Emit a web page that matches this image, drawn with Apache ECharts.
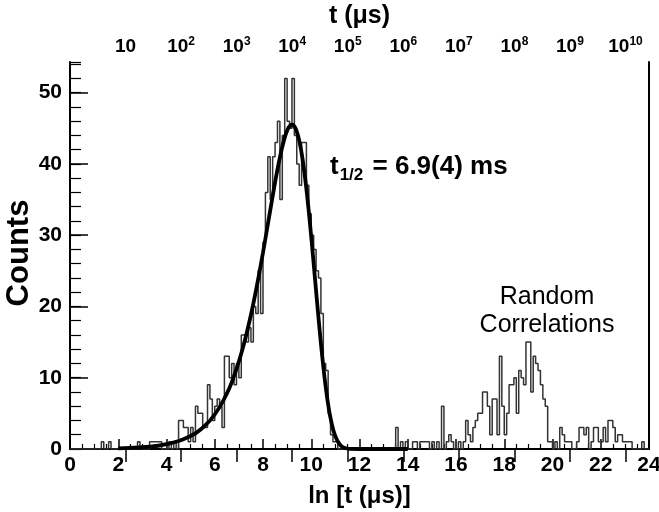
<!DOCTYPE html>
<html><head><meta charset="utf-8">
<script src="https://cdn.jsdelivr.net/npm/echarts@6/dist/echarts.min.js"></script>
<style>html,body{margin:0;padding:0;background:#fff}#c{width:659px;height:512px}</style>
</head><body><div id="c"></div>
<script>
// Histogram: bins of width 0.1 in ln[t(us)], starting at 0
const binStart = 0;
const binWidth = 0.1;
const counts = [
  0,0,0,0,0,0,0,0,0,0,
  0,0,0,1,0,0,1,0,0,0,
  0,0,0,0,0,0,0,0,1,0,
  0,0,0,1,1,1,1,1,0,0,
  0,1,0,1,0,4,4,3,3,1,
  3,1,6,5,5,3,3,9,7,4,
  6,7,6,3,13,13,10,12,9,12,
  10,16,16,15,17,15,20,19,25,19,
  29,36,41,35,41,43,46,35,44,52,
  46,45,52,44,40,37,43,43,37,33,
  30,28,25,24,19,12,11,5,2,1,
  1,0,0,0,0,0,0,0,0,0,
  0,0,0,0,0,0,0,0,0,0,
  0,0,0,0,0,3,0,1,0,1,
  0,0,1,1,0,1,1,1,1,0,
  1,0,1,0,6,0,1,2,1,0,
  0,1,0,1,4,2,1,3,4,5,
  5,8,8,6,2,7,7,2,13,6,
  2,5,9,9,10,5,11,10,9,15,
  15,8,13,12,11,9,7,6,1,1,
  0,1,0,3,2,1,1,1,0,0,
  1,3,3,2,3,0,1,3,3,1,
  1,3,1,4,4,3,1,2,2,1,
  1,1,1,0,0,0,0,1,0,0
];
// Fit curve
const fitX = [2,3,4,5,5.5,6,6.5,6.75,7,7.25,7.5,7.75,8,8.2,8.4,8.6,8.75,8.9,9,9.1,9.2,9.3,9.4,9.5,9.6,9.7,9.8,9.9,10,10.1,10.2,10.3,10.4,10.5,10.6,10.7,10.8,11,11.2,11.4,11.6,12,14];
const fitY = [0.09,0.25,0.68,1.83,2.99,4.84,7.77,9.79,12.27,15.27,18.83,22.95,27.57,31.5,35.47,39.22,41.69,43.69,44.66,45.28,45.5,45.28,44.54,43.30,41.52,39.22,36.45,33.25,29.73,26.01,22.19,18.44,14.84,11.57,8.69,6.27,4.33,1.76,0.57,0.13,0.02,0,0];
// Top axis: t (us) = 10^n at ln positions
const topTickLn = [2.302585,4.605170,6.907755,9.210340,11.512925,13.815511,16.118096,18.420681,20.723266,23.025851];
const topTickExp = [1,2,3,4,5,6,7,8,9,10];

const histData = counts.map((c,i)=>[binStart+i*binWidth, c]);
histData.push([binStart+counts.length*binWidth, counts[counts.length-1]]);
const fitData = fitX.map((x,i)=>[x, fitY[i]]);

const FONT = '"Liberation Sans", Arial, sans-serif';
const chart = echarts.init(document.getElementById('c'), null, {renderer:'canvas'});
const axLine = {show:true, lineStyle:{color:'#000', width:2}};
chart.setOption({
  animation:false,
  backgroundColor:'#fff',
  grid:{left:70, right:10, top:62, bottom:63, containLabel:false, outerBoundsMode:'none'},
  xAxis:[
    {type:'value', position:'bottom', min:0, max:24, interval:2,
     axisLine:axLine,
     axisTick:{show:true, inside:true, length:10, lineStyle:{color:'#000', width:1.5}},
     minorTick:{show:true, splitNumber:4, length:5, lineStyle:{color:'#000', width:1.2}},
     splitLine:{show:false},
     axisLabel:{color:'#000', fontFamily:FONT, fontWeight:'bold', fontSize:21, margin:6},
     name:'ln [t (\u03bcs)]', nameLocation:'middle', nameGap:35,
     nameTextStyle:{color:'#000', fontFamily:FONT, fontWeight:'bold', fontSize:24}},
    {type:'value', position:'top', min:0, max:24,
     axisLine:axLine,
     axisTick:{show:true, inside:true, length:13, customValues:topTickLn, lineStyle:{color:'#000', width:1.5}},
     splitLine:{show:false},
     axisLabel:{show:true, customValues:topTickLn, margin:6,
       formatter:(v)=>{
         let i = topTickLn.findIndex(t=>Math.abs(t-v)<1e-4);
         const n = topTickExp[i];
         return n===1 ? '{b|10}' : '{b|10}{s|'+n+'}';
       },
       rich:{
         b:{color:'#000', fontFamily:FONT, fontWeight:'bold', fontSize:19, lineHeight:20, verticalAlign:'bottom'},
         s:{color:'#000', fontFamily:FONT, fontWeight:'bold', fontSize:12, lineHeight:20, verticalAlign:'top', padding:[0,0,7,0]}
       }},
     name:'t (\u03bcs)', nameLocation:'middle', nameGap:33,
     nameTextStyle:{color:'#000', fontFamily:FONT, fontWeight:'bold', fontSize:25}}
  ],
  yAxis:[
    {type:'value', position:'left', min:0, max:54.3, interval:10,
     axisLine:axLine,
     axisTick:{show:true, inside:true, length:18, lineStyle:{color:'#000', width:1.5}},
     splitLine:{show:false},
     axisLabel:{color:'#000', fontFamily:FONT, fontWeight:'bold', fontSize:21, margin:8, showMaxLabel:false}},
    {type:'value', position:'left', min:0, max:54.3, interval:2,
     axisLine:{show:false},
     axisTick:{show:true, inside:true, length:11, lineStyle:{color:'#000', width:1.2}},
     axisLabel:{show:false}, splitLine:{show:false}},
    {type:'value', position:'right', min:0, max:54.3,
     axisLine:axLine, axisTick:{show:false}, axisLabel:{show:false}, splitLine:{show:false}}
  ],
  series:[
    {name:'hist', type:'line', step:'end', data:histData, xAxisIndex:0, yAxisIndex:0,
     showSymbol:false, silent:true, lineStyle:{color:'#333', width:1.5}, z:2},
    {name:'fit', type:'line', smooth:true, data:fitData, xAxisIndex:0, yAxisIndex:0,
     showSymbol:false, silent:true, lineStyle:{color:'#000', width:3.8}, z:3}
  ],
  graphic:[
    {type:'text', x:19, y:253, rotation:Math.PI/2, z:10,
     style:{text:'Counts', align:'center', verticalAlign:'middle', fill:'#000',
       fontFamily:FONT, fontWeight:'bold', fontSize:31}},
    {type:'text', x:330, y:150, z:10,
     style:{text:'{t|t}{sub|1/2}{t| = 6.9(4) ms}',
       rich:{
         t:{fill:'#000', fontFamily:FONT, fontWeight:'bold', fontSize:26, lineHeight:34, verticalAlign:'middle'},
         sub:{fill:'#000', fontFamily:FONT, fontWeight:'bold', fontSize:17, lineHeight:34, verticalAlign:'bottom', padding:[0,2,0,1]}
       }}},
    {type:'text', x:547, y:283, z:10,
     style:{text:'Random\nCorrelations', align:'center', fill:'#000',
       fontFamily:FONT, fontSize:25, lineHeight:28}}
  ]
});
</script></body></html>
